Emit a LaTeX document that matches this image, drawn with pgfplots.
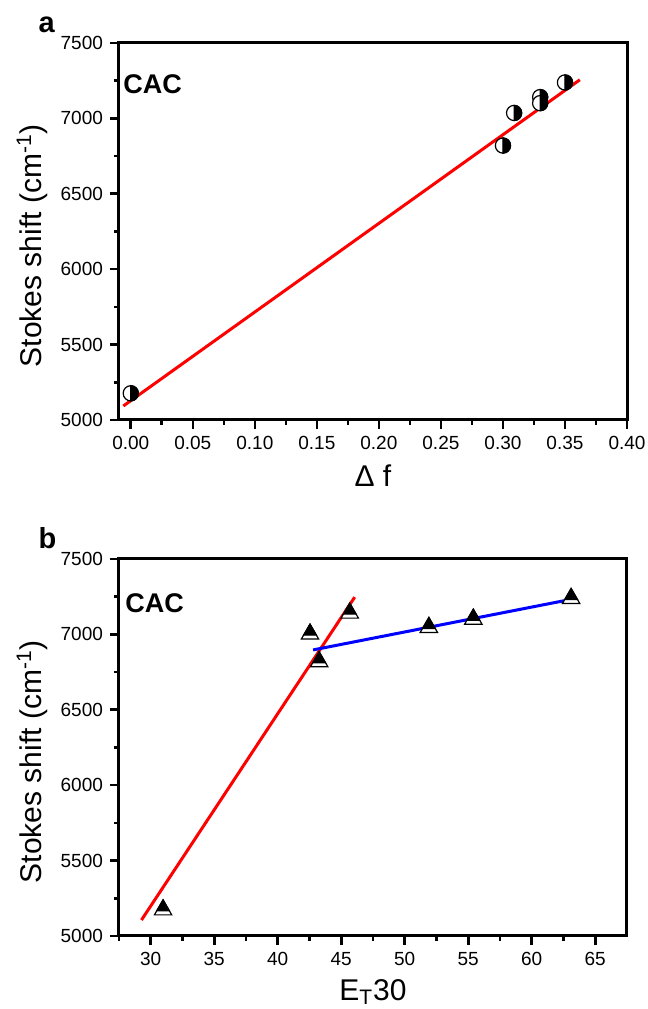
\documentclass[border=0pt]{standalone}
\usepackage{fontspec}
\setmainfont{Liberation Sans}
\usepackage{pgfplots}
\pgfplotsset{compat=1.18}

\pgfdeclareplotmark{halfR}{%
  \pgfpathcircle{\pgfpointorigin}{\pgfplotmarksize}%
  \pgfsetfillcolor{white}%
  \pgfusepathqfillstroke
  \pgfpathmoveto{\pgfqpoint{0pt}{\pgfplotmarksize}}%
  \pgfpatharc{90}{-90}{\pgfplotmarksize}%
  \pgfpathclose
  \pgfsetfillcolor{black}%
  \pgfusepathqfillstroke
}
\pgfdeclareplotmark{triTop}{%
  \pgfpathmoveto{\pgfqpoint{0pt}{\pgfplotmarksize}}%
  \pgfpathlineto{\pgfqpoint{-0.866\pgfplotmarksize}{-0.5\pgfplotmarksize}}%
  \pgfpathlineto{\pgfqpoint{0.866\pgfplotmarksize}{-0.5\pgfplotmarksize}}%
  \pgfpathclose
  \pgfsetfillcolor{white}%
  \pgfusepathqfillstroke
  \pgfpathmoveto{\pgfqpoint{0pt}{\pgfplotmarksize}}%
  \pgfpathlineto{\pgfqpoint{-0.635\pgfplotmarksize}{-0.1\pgfplotmarksize}}%
  \pgfpathlineto{\pgfqpoint{0.635\pgfplotmarksize}{-0.1\pgfplotmarksize}}%
  \pgfpathclose
  \pgfsetfillcolor{black}%
  \pgfusepathqfillstroke
}

\pgfplotsset{mystyle/.style={
  scale only axis, width=254pt, height=188.6pt,
  anchor=south west, clip=false,
  axis line style={line width=1.5pt},
  tick pos=left, tick align=outside,
  major tick length=4.5pt, minor tick length=2.5pt,
  tick style={black, line width=1.3pt},
  ticklabel style={font=\fontsize{9.5}{11}\selectfont},
  /pgf/number format/assume math mode=true,
  /pgf/number format/1000 sep={},
  label style={font=\fontsize{15}{18}\selectfont},
  ymin=5000, ymax=7500, ytick={5000,5500,6000,6500,7000,7500},
  minor ytick={5250,5750,6250,6750,7250},
  ylabel={Stokes shift (cm\textsuperscript{-1})},
  ylabel style={at={(axis description cs:-0.171,0.462)},anchor=center},
}}

\begin{document}
\begin{tikzpicture}
\useasboundingbox (0,0) rectangle (324pt,504.5pt);

% Panel a
\begin{axis}[mystyle, at={(59.5pt,294.5pt)},
  xmin=-0.0095, xmax=0.40,
  xtick={0,0.05,0.10,0.15,0.20,0.25,0.30,0.35,0.40},
  minor xtick={0.025,0.075,0.125,0.175,0.225,0.275,0.325,0.375},
  xticklabel style={/pgf/number format/.cd, fixed, fixed zerofill, precision=2},
  xlabel={Δ f},
  xlabel style={at={(axis description cs:0.5,-0.148)},anchor=center},
]
\addplot[only marks, mark=halfR, mark size=3.8pt, mark options={line width=0.6pt, draw=black}]
  coordinates {(0.000,5177) (0.300,6819) (0.309,7035) (0.330,7140) (0.330,7100) (0.350,7237)};
\addplot[red, line width=1.5pt, no marks] coordinates {(-0.006,5093) (0.362,7255)};
\node[anchor=west, inner sep=0pt, font=\fontsize{13.5}{16}\bfseries\selectfont] at (rel axis cs:0.008,0.89) {CAC};
\node[anchor=base west, inner sep=0pt, font=\fontsize{14.5}{17}\bfseries\selectfont] at (rel axis cs:-0.159,1.026) {a};
\end{axis}

% Panel b
\begin{axis}[mystyle, at={(59.5pt,36.5pt)},
  xmin=27.5, xmax=67.5,
  xtick={30,35,40,45,50,55,60,65},
  minor xtick={27.5,32.5,37.5,42.5,47.5,52.5,57.5,62.5},
  xlabel={E\textsubscript{T}30},
  xlabel style={at={(axis description cs:0.5,-0.148)},anchor=center},
]
\addplot[only marks, mark=triTop, mark size=5pt, mark options={line width=0.6pt, draw=black}]
  coordinates {(30.97,5173) (42.54,7001) (43.26,6818) (45.67,7140) (51.9,7045) (55.4,7100) (63.1,7237)};
\addplot[red, line width=1.5pt, no marks] coordinates {(29.27,5106) (46.06,7246)};
\addplot[blue, line width=1.5pt, no marks] coordinates {(42.78,6896) (63.33,7235)};
\node[anchor=west, inner sep=0pt, font=\fontsize{13.5}{16}\bfseries\selectfont] at (rel axis cs:0.012,0.883) {CAC};
\node[anchor=base west, inner sep=0pt, font=\fontsize{14.5}{17}\bfseries\selectfont] at (rel axis cs:-0.159,1.027) {b};
\end{axis}
\end{tikzpicture}
\end{document}
